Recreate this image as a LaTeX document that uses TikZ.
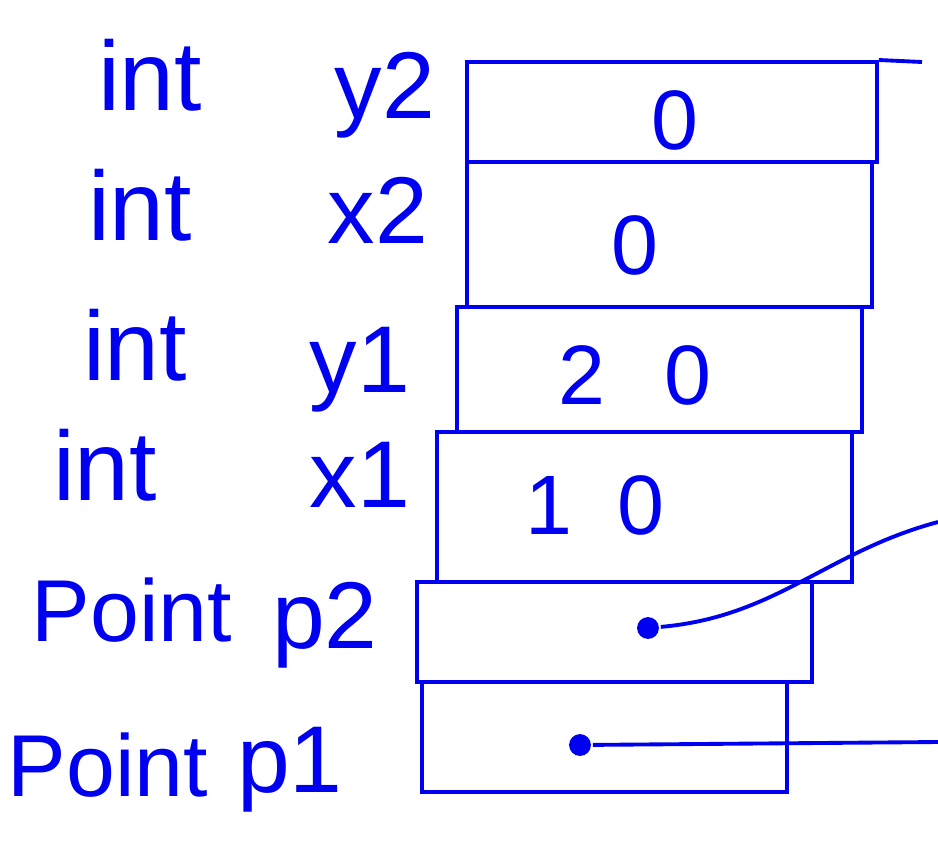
\documentclass[tikz,border=0pt]{standalone}
\usepackage{fontspec}
\setsansfont{Liberation Sans}
\usetikzlibrary{positioning}
\definecolor{InkColor}{RGB}{0,0,240}
\tikzset{
  cell/.style={draw=InkColor, line width=1.1pt, anchor=north west, inner sep=0pt},
  cellval/.style={text=InkColor, font=\sffamily\fontsize{24}{28}\selectfont},
  vartype/.style={text=InkColor, font=\sffamily\fontsize{28}{32}\selectfont},
  classtype/.style={text=InkColor, font=\sffamily\fontsize{25}{30}\selectfont},
  varname/.style={text=InkColor, font=\sffamily\fontsize{27}{32}\selectfont},
  ptrdot/.style={circle, fill=InkColor, inner sep=2.2pt},
}

\begin{document}
\begin{tikzpicture}[line width=1.1pt, draw=InkColor]
      \useasboundingbox (0,0) rectangle (9.38,-8.54);
      % memory cells, top to bottom
      \node[cell, minimum width=4.10cm, minimum height=1.00cm] (c1) at (4.65,-0.60) {};
      \node[cell, minimum width=4.05cm, minimum height=1.45cm] (c2) at (4.65,-1.60) {};
      \node[cell, minimum width=4.05cm, minimum height=1.25cm] (c3) at (4.55,-3.05) {};
      \node[cell, minimum width=4.15cm, minimum height=1.50cm] (c4) at (4.35,-4.30) {};
      \node[cell, minimum width=3.95cm, minimum height=1.00cm] (c5) at (4.15,-5.80) {};
      \node[cell, minimum width=3.65cm, minimum height=1.10cm] (c6) at (4.20,-6.80) {};
      \coordinate (topend) at (9.22,-0.62);
      \draw[InkColor] (c1.north east) -- (topend);
      % values
      \node[cellval] (v1) at (6.75,-1.20) {0};
      \node[cellval] (v2) at (6.35,-2.45) {0};
      \node[cellval] (v3) at (6.35,-3.75) {2\hspace{0.6cm}0};
      \node[cellval] (v4) at (5.95,-5.05) {1\hspace{0.45cm}0};
      % pointers
      \node[ptrdot] (d5) at (6.48,-6.28) {};
      \node[ptrdot] (d6) at (5.80,-7.45) {};
      \coordinate (p2end) at (9.38,-5.22);
      \coordinate (p1end) at (9.38,-7.42);
      \draw[InkColor] (d5) to[out=5, in=195] (p2end);
      \draw[InkColor] (d6) -- (p1end);
      % declarations
      \node[vartype] (t1) at (1.50,-0.75) {int};
      \node[varname] (n1) at (3.85,-0.95) {y2};
      \node[vartype] (t2) at (1.40,-2.05) {int};
      \node[varname] (n2) at (3.78,-2.10) {x2};
      \node[vartype] (t3) at (1.35,-3.45) {int};
      \node[varname] (n3) at (3.60,-3.70) {y1};
      \node[vartype] (t4) at (1.05,-4.65) {int};
      \node[varname] (n4) at (3.60,-4.75) {x1};
      \node[classtype] (t5) at (1.32,-6.10) {Point};
      \node[varname] (n5) at (3.25,-6.25) {p2};
      \node[classtype] (t6) at (1.08,-7.65) {Point};
      \node[varname] (n6) at (2.90,-7.70) {p1};
    \end{tikzpicture}
\end{document}
